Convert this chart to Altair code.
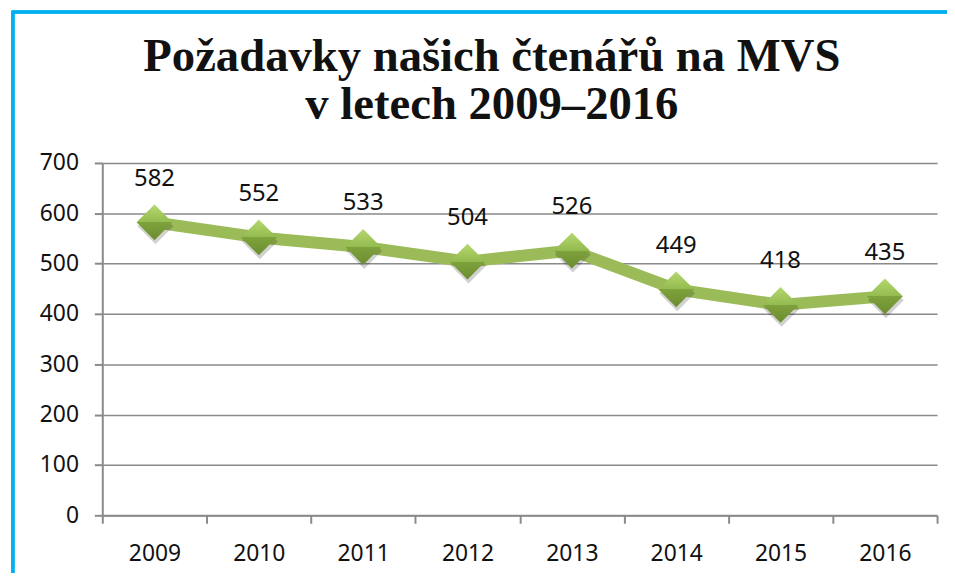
import altair as alt
import pandas as pd

years = ["2009", "2010", "2011", "2012", "2013", "2014", "2015", "2016"]
values = [582, 552, 533, 504, 526, 449, 418, 435]
title_lines = ["Požadavky našich čtenářů na MVS", "v letech 2009–2016"]
y_ticks = [0, 100, 200, 300, 400, 500, 600, 700]

df = pd.DataFrame({"rok": years, "pocet": values})

W, H = 841, 355
LABEL_FONT = "Noto Sans"
AXIS_GRAY = "#8a8a8a"

x_enc = alt.X(
    "rok:N",
    sort=years,
    scale=alt.Scale(paddingInner=0, paddingOuter=0),
    axis=alt.Axis(
        title=None,
        labelAngle=0,
        labelFont=LABEL_FONT,
        labelFontSize=23,
        labelColor="#111111",
        labelPadding=20,
        tickBand="extent",
        tickSize=8,
        tickColor=AXIS_GRAY,
        tickWidth=2,
        domainColor=AXIS_GRAY,
        domainWidth=2,
        grid=False,
    ),
)
y_enc = alt.Y(
    "pocet:Q",
    scale=alt.Scale(domain=[0, 700], nice=False),
    axis=alt.Axis(
        title=None,
        values=y_ticks,
        labelFont=LABEL_FONT,
        labelFontSize=23,
        labelColor="#111111",
        labelPadding=16,
        tickSize=8,
        tickColor=AXIS_GRAY,
        tickWidth=2,
        domainColor=AXIS_GRAY,
        domainWidth=2,
        gridColor=AXIS_GRAY,
        gridWidth=1.6,
    ),
)

base = alt.Chart(df).encode(x=x_enc, y=y_enc)

line = base.mark_line(color="#9BBB59", strokeWidth=12, strokeJoin="round")

shadow = base.mark_point(
    shape="diamond", filled=True, size=1300, color="#000000", opacity=0.18, yOffset=4, xOffset=1
)

diamond_fill = alt.Gradient(
    gradient="linear",
    x1=0, x2=0, y1=0, y2=1,
    stops=[
        alt.GradientStop(offset=0, color="#b6d86e"),
        alt.GradientStop(offset=0.5, color="#93bb4f"),
        alt.GradientStop(offset=0.5, color="#7ea23c"),
        alt.GradientStop(offset=1, color="#6c8c2f"),
    ],
)
points = base.mark_point(
    shape="diamond", filled=True, size=1300, fill=diamond_fill, opacity=1, strokeWidth=0
)

labels = base.mark_text(
    font=LABEL_FONT, fontSize=24, color="#111111", dy=-37, baseline="alphabetic", align="center"
).encode(text="pocet:Q")

border = alt.Chart(df).mark_rect(
    fill=None, stroke="#00B0F0", strokeWidth=2.5
).encode(
    x=alt.value(-90), x2=alt.value(W + 40), y=alt.value(-152), y2=alt.value(H + 90)
)

chart = (
    alt.layer(border, line, shadow, points, labels)
    .properties(
        width=W,
        height=H,
        title=alt.TitleParams(
            text=title_lines,
            font="Liberation Serif",
            fontSize=47,
            fontWeight="bold",
            color="#111111",
            lineHeight=48,
            anchor="middle",
            dx=-28,
            offset=0,
            dy=119,
        ),
        autosize=alt.AutoSizeParams(type="none"),
        padding={"left": 95, "top": 154, "right": 10, "bottom": 56},
    )
    .configure_view(stroke=None)
)

chart.save("out.html", embed_options={"renderer": "svg", "actions": False})
